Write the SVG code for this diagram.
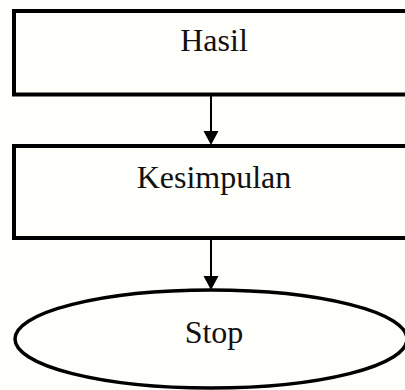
<svg xmlns="http://www.w3.org/2000/svg" width="405" height="390" viewBox="0 0 405 390">
  <style>
    .box { fill: none; stroke: #000; stroke-width: 4; }
    .term { fill: none; stroke: #000; stroke-width: 3.5; }
    .label { font-family: "Liberation Serif", "Times New Roman", serif; font-size: 32px; fill: #111; text-anchor: middle; }
    .flow { stroke: #000; stroke-width: 2; fill: none; }
    .head { fill: #000; }
  </style>
  <rect x="0" y="0" width="405" height="390" fill="#fefefb"/>

  <g id="node-hasil">
    <rect class="box" x="14" y="11" width="394" height="83.5"/>
    <text class="label" x="214" y="51">Hasil</text>
  </g>

  <g id="node-kesimpulan">
    <rect class="box" x="14" y="146" width="394" height="92"/>
    <text class="label" x="214" y="188">Kesimpulan</text>
  </g>

  <g id="node-stop">
    <ellipse class="term" cx="211" cy="339" rx="196" ry="49"/>
    <text class="label" x="214" y="343">Stop</text>
  </g>

  <g id="connectors">
    <line class="flow" x1="211" y1="96" x2="211" y2="134"/>
    <polygon class="head" points="203.5,131 218.5,131 211,145"/>
    <line class="flow" x1="211" y1="240" x2="211" y2="278"/>
    <polygon class="head" points="203.5,276 218.5,276 211,290"/>
  </g>
</svg>
